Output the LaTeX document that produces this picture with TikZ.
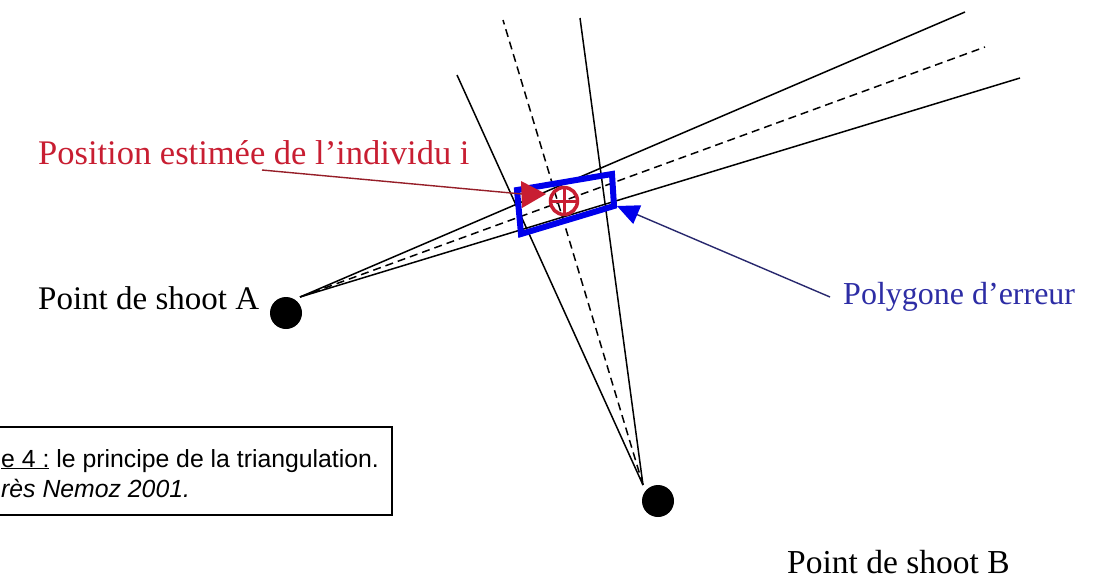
\documentclass[tikz,border=0pt]{standalone}
\usepackage{fontspec}
\setmainfont{Liberation Serif}
\newfontfamily\capfont{Liberation Sans}
\usetikzlibrary{arrows.meta,calc}
\definecolor{lblred}{RGB}{200,30,50}
\definecolor{polyblue}{RGB}{0,0,235}
\definecolor{txtblue}{RGB}{45,45,165}
\definecolor{arrblue}{RGB}{40,40,110}
\definecolor{arrred}{RGB}{150,30,40}
\tikzset{
  dot/.style={circle,fill=black,minimum size=32pt,inner sep=0pt},
  ray/.style={black,line width=1.5pt},
  dray/.style={black,line width=1.5pt,dash pattern=on 8pt off 5pt},
  lbl/.style={font=\fontsize{33}{38}\selectfont,inner sep=0pt},
  caption/.style={font=\capfont\fontsize{24.8}{30}\selectfont,inner sep=0pt},
  polyline/.style={polyblue,line width=6pt,line join=miter},
}
\begin{document}
\begin{tikzpicture}[x=1pt,y=-1pt]
\useasboundingbox (0,0) rectangle (1093,587);
\clip (0,0) rectangle (1093,587);
\fill[white] (0,0) rectangle (1093,587);

% shoot points
\node[dot] (A) at (286,313) {};
\node[dot] (B) at (658,501) {};
\coordinate (pA) at (300,297);
\coordinate (pB) at (643,485);

% ray ends
\coordinate (a1) at (965,12);
\coordinate (a2) at (985,47);
\coordinate (a3) at (1020,78);
\coordinate (b1) at (457,75);
\coordinate (b2) at (503,20);
\coordinate (b3) at (580,18);

\draw[ray] (pA) -- (a1);
\draw[dray] (pA) -- (a2);
\draw[ray] (pA) -- (a3);
\draw[ray] (pB) -- (b1);
\draw[dray] (pB) -- (b2);
\draw[ray] (pB) -- (b3);

% error polygon
\coordinate (q1) at (517,190);
\coordinate (q2) at (612,174);
\coordinate (q3) at (614,206);
\coordinate (q4) at (521,234);
\draw[polyline] (q1) -- (q2) -- (q3) -- (q4) -- cycle;

% estimated position marker
\coordinate (m) at (564,201);
\fill[lblred] (521,181) -- (546,194) -- (522,208) -- cycle;
\draw[lblred,line width=3.5pt] (m) circle (13.5pt);
\draw[lblred,line width=3pt] ($(m)+(-13.5,0)$) -- ($(m)+(13.5,0)$) ($(m)+(0,-13.5)$) -- ($(m)+(0,13.5)$);

% labels
\node[lbl,text=lblred,anchor=base west,font=\fontsize{34.5}{40}\selectfont] (pos) at (38,164) {Position estimée de l’individu i};
\node[lbl,anchor=base west] (tA) at (38,309) {Point de shoot A};
\node[lbl,text=txtblue,anchor=base west,font=\fontsize{32}{37}\selectfont] (tP) at (843,304) {Polygone d’erreur};
\node[lbl,anchor=base west,font=\fontsize{33.5}{38}\selectfont] (tB) at (787,573) {Point de shoot B};

% pointers
\coordinate (posfoot) at (262,170);
\coordinate (mtip) at (522,194);
\draw[arrred,line width=1.4pt] (posfoot) -- (mtip);
\coordinate (pfoot) at (830,297);
\coordinate (ptip) at (617,206);
\draw[arrblue,line width=1.4pt,-{Triangle[length=22pt,width=20pt,color=polyblue]}] (pfoot) -- (ptip);

% caption box
\draw[black,line width=2pt] (-10,427) rectangle (392,515);
\node[caption,anchor=base west] (cap1) at (1,467) {\underline{e 4 :} le principe de la triangulation.};
\node[caption,anchor=base west] (cap2) at (1,497) {\itshape rès Nemoz 2001.};
\end{tikzpicture}
\end{document}
